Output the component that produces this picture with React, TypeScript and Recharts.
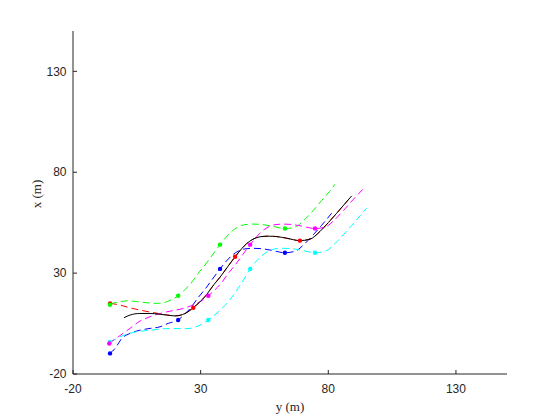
import { ComposedChart, Line, Scatter, XAxis, YAxis } from 'recharts'

const AXIS_TICKS = [-20, 30, 80, 130]

// each point is [y (m) on the horizontal axis, x (m) on the vertical axis]
const blackPath = [
  [0, 7.9], [2.3, 9.2], [6.2, 10], [10.2, 10], [13.4, 9.7], [16.7, 9.2], [20, 8.8],
  [23.9, 10], [27.1, 12.8], [29.5, 15.5], [32, 18.8], [35, 24], [37.6, 28], [40.5, 33],
  [43.5, 38.1], [46, 42], [48, 44.6], [50.5, 46.8], [53.2, 48], [56.5, 48.3], [59.8, 48.1],
  [63.7, 47.3], [68.9, 46.1], [72.8, 46.8], [76.7, 50.6], [80, 55], [83.3, 59.7],
  [87.8, 66.3], [89.2, 68.3],
]

const redPath = [
  [-5.5, 15], [-1.6, 14.2], [2.3, 12.8], [6.2, 11.7], [10.2, 10.7], [13.4, 10], [16.7, 9.3],
  [20, 8.8], [23.9, 10], [27.1, 12.8], [29.5, 15.5], [32, 18.8], [35, 24], [37.6, 28],
  [40.5, 33], [43.5, 38.1], [46, 42], [48, 44.6], [50.5, 46.8], [53.2, 48], [56.5, 48.3],
  [59.8, 48.1], [63.7, 47.3], [68.9, 46.1], [72.8, 46.8], [76.7, 50.6], [80, 55],
  [83.3, 59.7], [87.8, 66.3], [89.2, 68.3],
]
const redMarks = [[-5.5, 15], [27.1, 12.8], [43.5, 38.1], [68.9, 46.1]]

const greenPath = [
  [-5.5, 14.8], [-1.6, 15.8], [1.5, 16.3], [5, 15.9], [9, 15.3], [12.8, 15], [15.4, 15.3],
  [18, 16.5], [21.2, 18.8], [23.6, 21.5], [26.1, 24.8], [29.1, 30], [31.7, 34], [34.6, 39],
  [37.6, 44.1], [40.1, 48], [42.1, 50.6], [44.6, 52.8], [47.3, 54], [50.6, 54.3],
  [53.9, 54.1], [57.8, 53.3], [63, 52.1], [66.9, 52.8], [70.8, 56.6], [74.1, 61],
  [77.4, 66], [80.5, 70.5], [82.6, 74],
]
const greenMarks = [[-5.5, 14.3], [21.2, 18.8], [37.6, 44.1], [63, 52.1]]

const bluePath = [
  [-5.5, -9.8], [-3.5, -7.3], [-0.9, -2.4], [2.3, 0.1], [6.2, 1.7], [10.2, 2.6],
  [14.1, 3.4], [17.3, 5.1], [21.2, 6.8], [23.6, 9.5], [26.1, 12.8], [29.1, 18], [31.7, 22],
  [34.6, 27], [37.6, 32.1], [40.1, 36], [42.1, 38.6], [44.6, 40.8], [47.3, 42], [50.6, 42.3],
  [53.9, 42.1], [57.8, 41.3], [63, 40.1], [66.9, 40.8], [70.8, 44.6], [74.1, 49],
  [77.4, 53.7], [81.3, 59.7],
]
const blueMarks = [[-5.5, -9.8], [21.2, 6.8], [37.6, 32.1], [63, 40.1]]

const cyanPath = [
  [-5.5, -4.3], [-1.6, -1.6], [3.6, 0.6], [10.2, 1.7], [16.7, 2.5], [24.5, 2.5],
  [29.7, 4.2], [33, 6.8], [36.9, 10.8], [40.8, 15.8], [44.7, 22.5], [47, 27], [49.4, 32.1],
  [51.9, 36], [53.9, 38.6], [56.4, 40.8], [59.1, 42], [62.4, 42.3], [65.7, 42.1],
  [69.6, 41.3], [74.8, 40.1], [78.7, 40.8], [82.6, 44.6], [85.9, 49], [89.2, 53.7],
  [92.5, 58.5], [95, 62.2],
]
const cyanMarks = [[-5.5, -4.1], [33, 6.8], [49.4, 32.1], [74.8, 40.1]]

const magentaPath = [
  [-6, -4.9], [-2.3, -1.6], [2.3, 2.6], [6.2, 6.2], [10.2, 8.4], [16.7, 10.8], [23.2, 12.5],
  [27.1, 14.2], [30, 16], [33, 18.8], [35.4, 21.5], [37.9, 24.8], [40.9, 30], [43.5, 34],
  [46.4, 39], [49.4, 44.1], [51.9, 48], [53.9, 50.6], [56.4, 52.8], [59.1, 54], [62.4, 54.3],
  [65.7, 54.1], [69.6, 53.3], [74.8, 52.1], [78.7, 52.8], [82.6, 56.6], [85.9, 61],
  [89.2, 65.7], [93.5, 71.5],
]
const magentaMarks = [[-5.8, -4.9], [33, 18.8], [49.4, 44.1], [74.8, 52.1]]

const toPoints = (arr: number[][]) => arr.map(([x, y]) => ({ x, y }))

const DASHED = [
  { key: 'red', color: '#ff0000', path: redPath, marks: redMarks },
  { key: 'green', color: '#00ff00', path: greenPath, marks: greenMarks },
  { key: 'blue', color: '#0000ff', path: bluePath, marks: blueMarks },
  { key: 'cyan', color: '#00ffff', path: cyanPath, marks: cyanMarks },
  { key: 'magenta', color: '#ff00ff', path: magentaPath, marks: magentaMarks },
]

const AXIS_COLOR = '#262626'
const tickStyle = { fill: AXIS_COLOR, fontSize: 12, fontFamily: '"Liberation Sans", Arial, sans-serif' }
const serif = '"Liberation Serif", "Times New Roman", serif'

const dot = (color: string) => (p: any) => (
  <circle cx={p.cx} cy={p.cy} r={2.2} fill={color} />
)

export default function App() {
  return (
    <ComposedChart width={552} height={412} margin={{ top: 23, right: 53, bottom: 0, left: 0 }}>
      <XAxis
        type="number"
        dataKey="x"
        domain={[-20, 150]}
        ticks={AXIS_TICKS}
        allowDataOverflow
        height={46}
        tickSize={-4}
        tickMargin={14}
        tick={tickStyle}
        axisLine={{ stroke: AXIS_COLOR }}
        tickLine={{ stroke: AXIS_COLOR }}
        label={{
          content: () => (
            <text x={282} y={403} textAnchor="middle" fontFamily={serif} fontSize={13} fill={AXIS_COLOR}>
              y (m)
            </text>
          ),
        }}
      />
      <YAxis
        type="number"
        dataKey="y"
        domain={[-20, 150]}
        ticks={AXIS_TICKS}
        allowDataOverflow
        width={65}
        tickSize={-4}
        tickMargin={10.5}
        tick={tickStyle}
        axisLine={{ stroke: AXIS_COLOR }}
        tickLine={{ stroke: AXIS_COLOR }}
        label={{
          content: () => (
            <text
              x={33}
              y={186}
              textAnchor="middle"
              transform="rotate(-90 33 186)"
              fontFamily={serif}
              fontSize={13}
              fill={AXIS_COLOR}
            >
              x (m)
            </text>
          ),
        }}
      />
      {DASHED.map((s) => (
        <Line
          key={s.key}
          data={toPoints(s.path)}
          dataKey="y"
          type="monotone"
          stroke={s.color}
          strokeWidth={1}
          strokeDasharray="7 4"
          dot={false}
          activeDot={false}
          isAnimationActive={false}
        />
      ))}
      <Line
        data={toPoints(blackPath)}
        dataKey="y"
        type="monotone"
        stroke="#000000"
        strokeWidth={1}
        dot={false}
        activeDot={false}
        isAnimationActive={false}
      />
      {DASHED.map((s) => (
        <Scatter
          key={s.key + '-marks'}
          data={toPoints(s.marks)}
          dataKey="y"
          shape={dot(s.color)}
          isAnimationActive={false}
        />
      ))}
    </ComposedChart>
  )
}
